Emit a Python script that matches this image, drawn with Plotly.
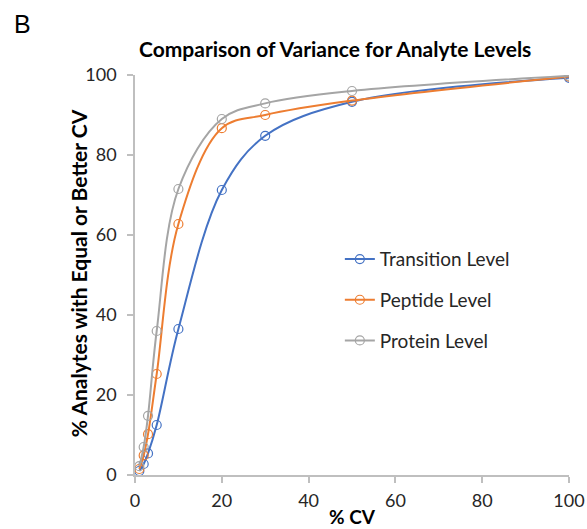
import plotly.graph_objects as go

cv = [1, 2, 3, 5, 10, 20, 30, 50, 100]
transition = [1.0, 2.75, 5.4, 12.5, 36.5, 71.25, 84.8, 93.3, 99.3]
peptide = [1.5, 4.9, 10.2, 25.25, 62.75, 86.7, 90.0, 93.6, 99.6]
protein = [2.2, 7.0, 14.8, 36.0, 71.5, 89.0, 92.9, 96.0, 99.8]

series = [
    ("Transition Level", transition, "#4472C4"),
    ("Peptide Level", peptide, "#ED7D31"),
    ("Protein Level", protein, "#A5A5A5"),
]

font_family = "Lato, Carlito, Open Sans, sans-serif"

fig = go.Figure()
for name, vals, color in series:
    fig.add_trace(go.Scatter(
        x=cv, y=vals, name=name, mode="lines+markers",
        line=dict(color=color, width=2, shape="spline", smoothing=1.0),
        marker=dict(symbol="circle-open", size=9, color=color, line=dict(width=1.2)),
        legendgroup=name,
    ))

fig.update_layout(
    width=587, height=529,
    margin=dict(l=135, r=18, t=75, b=54, autoexpand=False),
    paper_bgcolor="white", plot_bgcolor="white",
    font=dict(family=font_family, size=18, color="#262626"),
    title=dict(text="<b>Comparison of Variance for Analyte Levels</b>",
               x=0.571, xanchor="center", y=0.907, yanchor="middle",
               font=dict(size=21, color="black")),
    showlegend=True,
    legend=dict(x=0.472, y=0.587, xanchor="left", yanchor="top",
                bgcolor="rgba(0,0,0,0)", tracegroupgap=13,
                traceorder="grouped",
                font=dict(size=19, color="#262626")),
    xaxis=dict(range=[0, 100], tickvals=[0, 20, 40, 60, 80, 100],
               showgrid=False, zeroline=False, showline=True, automargin=False,
               linecolor="#BFBFBF", linewidth=1.5, ticks="outside",
               tickcolor="#BFBFBF", ticklen=6, tickwidth=1.5,
               ticklabelstandoff=3,
               title=dict(text="<b>% CV</b>", standoff=0,
                          font=dict(size=19, color="black"))),
    yaxis=dict(range=[0, 100], tickvals=[0, 20, 40, 60, 80, 100],
               showgrid=False, zeroline=False, showline=True, automargin=False,
               linecolor="#BFBFBF", linewidth=1.5, ticks="outside",
               tickcolor="#BFBFBF", ticklen=6, tickwidth=1.5,
               ticklabelstandoff=7),
)
fig.add_annotation(text="<b>% Analytes with Equal or Better CV</b>", xref="paper", yref="paper",
                   x=-0.131, y=0.505, xanchor="center", yanchor="middle", textangle=-90,
                   showarrow=False, font=dict(size=21, color="black"))
fig.add_annotation(text="B", xref="paper", yref="paper",
                   x=-0.283, y=1.1275, xanchor="left", yanchor="middle",
                   showarrow=False, font=dict(family="Liberation Sans, Arial", size=25, color="black"))

fig.write_html("out.html", config={"displayModeBar": False},
               post_script="document.body.style.margin='0';")
